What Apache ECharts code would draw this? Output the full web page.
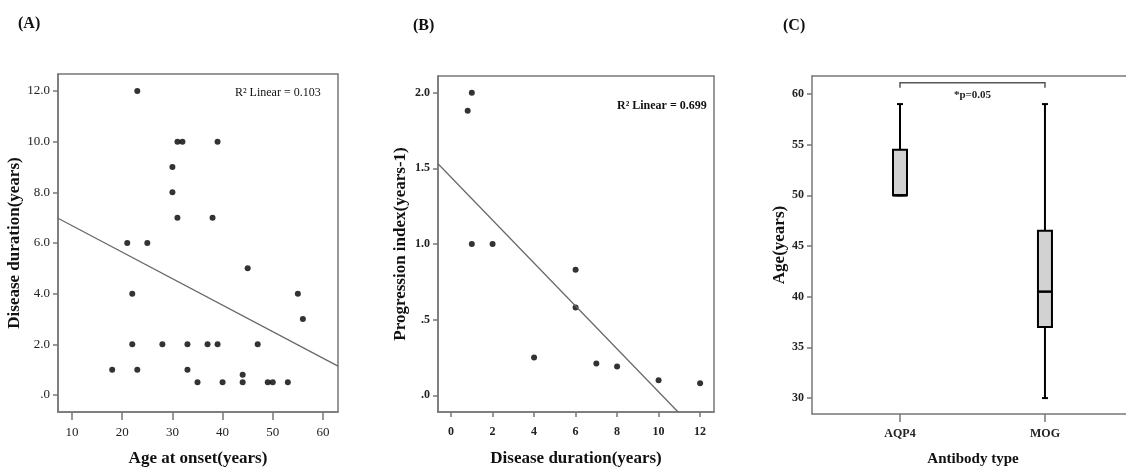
<!DOCTYPE html>
<html>
<head>
<meta charset="utf-8">
<script src="https://cdn.jsdelivr.net/npm/echarts@6/dist/echarts.min.js"></script>
<style>
  html, body { margin: 0; padding: 0; background: #fff; }
  #chart { width: 1126px; height: 472px; }
</style>
</head>
<body>
<div id="chart"></div>
<script>
// (A) age at onset vs disease duration
const ageOnset = [23, 31, 32, 39, 30, 30, 31, 38, 21, 25, 45, 22, 55, 56, 22, 28, 33, 37, 39, 47, 18, 23, 33, 44, 35, 40, 44, 49, 50, 53]
const durationA = [12, 10, 10, 10, 9, 8, 7, 7, 6, 6, 5, 4, 4, 3, 2, 2, 2, 2, 2, 2, 1, 1, 1, 0.8, 0.5, 0.5, 0.5, 0.5, 0.5, 0.5]
const fitA = [[7.2, 6.98], [63, 1.14]]
const ticksAx = [10, 20, 30, 40, 50, 60]
const ticksAy = [0, 2, 4, 6, 8, 10, 12]

// (B) disease duration vs progression index
const durationB = [0.8, 1, 1, 2, 4, 6, 6, 7, 8, 10, 12]
const progIndex = [1.88, 2.0, 1.0, 1.0, 0.25, 0.83, 0.58, 0.21, 0.19, 0.1, 0.08]
const fitB = [[-0.63, 1.53], [10.94, -0.11]]
const ticksBx = [0, 2, 4, 6, 8, 10, 12]
const ticksBy = [0, 0.5, 1, 1.5, 2]

// (C) age by antibody type: [min, q1, median, q3, max]
const antibodies = ['AQP4', 'MOG']
const boxStats = [
  [50, 50, 50, 54.5, 59],
  [30, 37, 40.5, 46.5, 59],
]
const ticksCy = [30, 35, 40, 45, 50, 55, 60]
const pValueText = '*p=0.05'
const bracketY = 61.1

const serif = "'Liberation Serif', 'Times New Roman', serif"
const frame = '#777'

let myChart = echarts.init(document.getElementById('chart'))

function zip(xs, ys) {
  return xs.map((x, i) => [x, ys[i]])
}

function decFmt(v) {
  // SPSS style: .0 .5 1.0 ...
  let s = Number(v).toFixed(1)
  return s.startsWith('0') ? s.slice(1) : s
}

function valueAxis(opt) {
  return {
    type: 'value',
    gridIndex: opt.grid,
    min: opt.min,
    max: opt.max,
    name: opt.name,
    nameLocation: 'middle',
    nameGap: opt.nameGap,
    nameTextStyle: {
      fontFamily: serif,
      fontWeight: 'bold',
      fontSize: opt.nameSize || 17,
      color: '#111',
      padding: opt.namePad || 0,
    },
    splitLine: { show: false },
    axisLine: { show: true, onZero: false, lineStyle: { color: frame, width: 1.5 } },
    axisTick: {
      show: true,
      length: opt.tickLen || 5,
      customValues: opt.ticks,
      lineStyle: { color: frame, width: 1.5 },
    },
    axisLabel: {
      customValues: opt.ticks,
      formatter: opt.fmt,
      margin: opt.margin || 8,
      fontFamily: serif,
      fontSize: opt.labelSize || 12,
      fontWeight: opt.bold ? 'bold' : 'normal',
      color: '#222',
    },
  }
}

function renderBox(params, api) {
  let x = api.value(0)
  let lo = api.coord([x, api.value(1)])
  let q1 = api.coord([x, api.value(2)])
  let med = api.coord([x, api.value(3)])
  let q3 = api.coord([x, api.value(4)])
  let hi = api.coord([x, api.value(5)])
  let cx = lo[0]
  let half = 7
  let cap = 3
  let stroke = { stroke: '#000', lineWidth: 2 }
  return {
    type: 'group',
    children: [
      { type: 'line', shape: { x1: cx, y1: hi[1], x2: cx, y2: q3[1] }, style: stroke },
      { type: 'line', shape: { x1: cx, y1: q1[1], x2: cx, y2: lo[1] }, style: stroke },
      { type: 'line', shape: { x1: cx - cap, y1: hi[1], x2: cx + cap, y2: hi[1] }, style: stroke },
      { type: 'line', shape: { x1: cx - cap, y1: lo[1], x2: cx + cap, y2: lo[1] }, style: stroke },
      {
        type: 'rect',
        shape: { x: cx - half, y: q3[1], width: half * 2, height: q1[1] - q3[1] },
        style: { fill: '#d2d2d2', stroke: '#000', lineWidth: 2 },
      },
      { type: 'line', shape: { x1: cx - half, y1: med[1], x2: cx + half, y2: med[1] }, style: { stroke: '#000', lineWidth: 2.5 } },
    ],
  }
}

function renderBracket(params, api) {
  let a = api.coord([api.value(0), api.value(2)])
  let b = api.coord([api.value(1), api.value(2)])
  let drop = 5
  return {
    type: 'group',
    children: [
      {
        type: 'polyline',
        shape: { points: [[a[0], a[1] + drop], a, b, [b[0], b[1] + drop]] },
        style: { stroke: '#555', lineWidth: 1.5, fill: null },
      },
      {
        type: 'text',
        style: {
          text: pValueText,
          x: (a[0] + b[0]) / 2,
          y: a[1] + 12,
          align: 'center',
          verticalAlign: 'middle',
          font: 'bold 11px ' + serif,
          fill: '#222',
        },
      },
    ],
  }
}

let option = {
  animation: false,
  backgroundColor: '#fff',
  grid: [
    { left: 58, top: 74, width: 280, height: 340, show: true, borderColor: frame, borderWidth: 1.5 },
    { left: 438, top: 76, width: 276, height: 337, show: true, borderColor: frame, borderWidth: 1.5 },
    // panel C runs off the right edge of the figure, so no right border
    { left: 812, top: 76, right: 0, height: 339, show: false },
  ],
  xAxis: [
    valueAxis({
      grid: 0, min: 7.2, max: 63, ticks: ticksAx, name: 'Age at onset(years)',
      nameGap: 38, tickLen: 8, margin: 14, labelSize: 13,
    }),
    valueAxis({
      grid: 1, min: -0.63, max: 12.67, ticks: ticksBx, name: 'Disease duration(years)',
      nameGap: 38, tickLen: 5, margin: 14, bold: true,
    }),
    valueAxis({
      grid: 2, min: 0.393, max: 2.559, ticks: [1, 2], name: 'Antibody type',
      nameGap: 38, nameSize: 15, tickLen: 8, margin: 14, bold: true, namePad: [0, 0, 0, 8],
      fmt: (v) => antibodies[Math.round(v) - 1],
    }),
    {
      type: 'value', gridIndex: 2, position: 'top', min: 0.393, max: 2.559,
      axisLine: { show: true, lineStyle: { color: frame, width: 1.5 } },
      axisTick: { show: false }, axisLabel: { show: false }, splitLine: { show: false },
    },
  ],
  yAxis: [
    valueAxis({
      grid: 0, min: -0.67, max: 12.67, ticks: ticksAy, name: 'Disease duration(years)',
      nameGap: 33, labelSize: 13, fmt: decFmt,
    }),
    valueAxis({
      grid: 1, min: -0.11, max: 2.11, ticks: ticksBy, name: 'Progression index(years-1)',
      nameGap: 29, bold: true, fmt: decFmt,
    }),
    valueAxis({
      grid: 2, min: 28.43, max: 61.77, ticks: ticksCy, name: 'Age(years)',
      nameGap: 24, bold: true,
    }),
  ],
  series: [
    {
      type: 'line', xAxisIndex: 0, yAxisIndex: 0, data: fitA,
      symbol: 'none', lineStyle: { color: '#666', width: 1.2 },
    },
    {
      type: 'scatter', xAxisIndex: 0, yAxisIndex: 0, data: zip(ageOnset, durationA),
      symbolSize: 6, itemStyle: { color: '#000' },
    },
    {
      type: 'line', xAxisIndex: 1, yAxisIndex: 1, data: fitB,
      symbol: 'none', lineStyle: { color: '#666', width: 1.2 },
    },
    {
      type: 'scatter', xAxisIndex: 1, yAxisIndex: 1, data: zip(durationB, progIndex),
      symbolSize: 6, itemStyle: { color: '#000' },
    },
    {
      type: 'custom', xAxisIndex: 2, yAxisIndex: 2,
      data: boxStats.map((s, i) => [i + 1].concat(s)),
      renderItem: renderBox,
    },
    {
      type: 'custom', xAxisIndex: 2, yAxisIndex: 2,
      data: [[1, 2, bracketY]],
      renderItem: renderBracket,
    },
  ],
  graphic: [
    { type: 'text', left: 18, top: 16, style: { text: '(A)', font: 'bold 16px ' + serif, fill: '#111' } },
    { type: 'text', left: 413, top: 18, style: { text: '(B)', font: 'bold 16px ' + serif, fill: '#111' } },
    { type: 'text', left: 783, top: 18, style: { text: '(C)', font: 'bold 16px ' + serif, fill: '#111' } },
    { type: 'text', left: 235, top: 87, style: { text: 'R² Linear = 0.103', font: '12px ' + serif, fill: '#111' } },
    { type: 'text', left: 617, top: 100, style: { text: 'R² Linear = 0.699', font: 'bold 12px ' + serif, fill: '#111' } },
  ],
}

myChart.setOption(option)
</script>
</body>
</html>
